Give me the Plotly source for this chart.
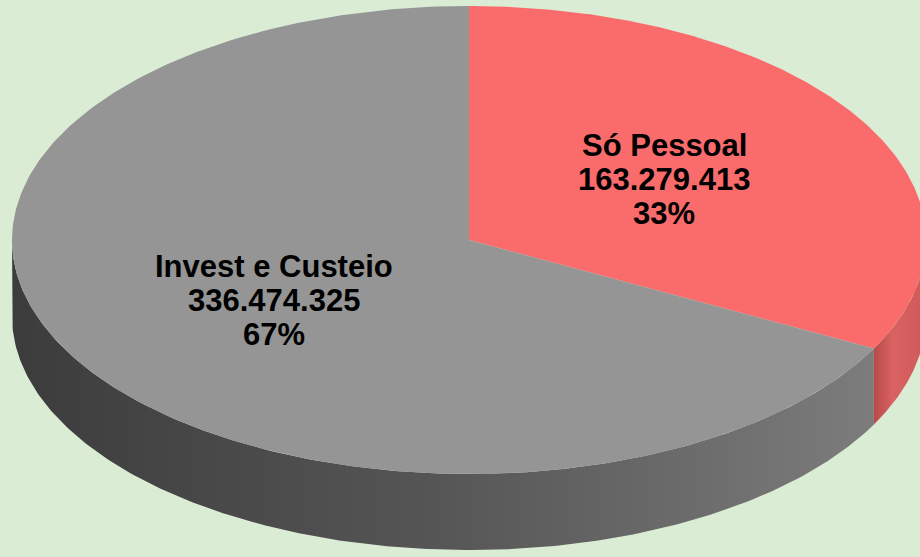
import numpy as np
import plotly.graph_objects as go

# ---- data ----
labels = ["Só Pessoal", "Invest e Custeio"]
values = [163279413, 336474325]
top_colors = ["#fa6b6b", "#959595"]
side_scales = [
    [[0, "#b84a4a"], [0.35, "#d96262"], [1, "#cf5a5a"]],
    [[0, "#3c3c3c"], [0.5, "#565656"], [1, "#7c7c7c"]],
]

# ---- geometry (pixel space) ----
W, H = 920, 557
cx, cy, rx, ry, thick = 469, 240, 457, 234, 76


def pt(theta, dy=0.0):
    return cx + rx * np.sin(theta), cy - ry * np.cos(theta) + dy


def fmt(v):
    return f"{v:,}".replace(",", ".")


total = sum(values)
fracs = [v / total for v in values]
starts = np.cumsum([0] + fracs[:-1]) * 2 * np.pi
ends = np.cumsum(fracs) * 2 * np.pi

fig = go.Figure()

# sides (front half only: angles between pi/2 and 3pi/2)
for i in range(len(values)):
    a0 = max(starts[i], np.pi / 2)
    a1 = min(ends[i], 3 * np.pi / 2)
    if a1 <= a0:
        continue
    t = np.linspace(a0, a1, 200)
    xt, yt = pt(t)
    xb, yb = pt(t[::-1], thick)
    xs = np.concatenate([xt, xb, xt[:1]])
    ys = np.concatenate([yt, yb, yt[:1]])
    fig.add_trace(go.Scatter(
        x=xs, y=ys, mode="lines", fill="toself", line=dict(width=0),
        fillgradient=dict(type="horizontal", colorscale=side_scales[i]),
        hoverinfo="skip", showlegend=False))

# top faces
for i in range(len(values)):
    t = np.linspace(starts[i], ends[i], 300)
    xa, ya = pt(t)
    xs = np.concatenate([[cx], xa, [cx]])
    ys = np.concatenate([[cy], ya, [cy]])
    fig.add_trace(go.Scatter(
        x=xs, y=ys, mode="lines", fill="toself", line=dict(width=0),
        fillcolor=top_colors[i], hoverinfo="skip", showlegend=False))

# labels at half radius of mid-angle
line_gap = 34
for i in range(len(values)):
    mid = (starts[i] + ends[i]) / 2
    lx = cx + 0.5 * rx * np.sin(mid)
    ly = cy - 0.5 * ry * np.cos(mid)
    lines = [labels[i], fmt(values[i]), f"{round(fracs[i] * 100)}%"]
    for k, txt in enumerate(lines):
        fig.add_annotation(
            x=lx, y=ly + (k - 1) * line_gap, text=f"<b>{txt}</b>",
            showarrow=False, xanchor="center", yanchor="middle",
            font=dict(family="Liberation Sans, Arial, sans-serif", size=31, color="#000000"))

fig.update_layout(
    width=W, height=H,
    margin=dict(l=0, r=0, t=0, b=0),
    paper_bgcolor="#dbecd4", plot_bgcolor="#dbecd4",
    xaxis=dict(range=[0, W], visible=False, fixedrange=True),
    yaxis=dict(range=[H, 0], visible=False, fixedrange=True),
)

fig.write_html(
    "out.html",
    config={"displayModeBar": False},
    post_script="document.body.style.margin='0';document.body.style.overflow='hidden';",
)
